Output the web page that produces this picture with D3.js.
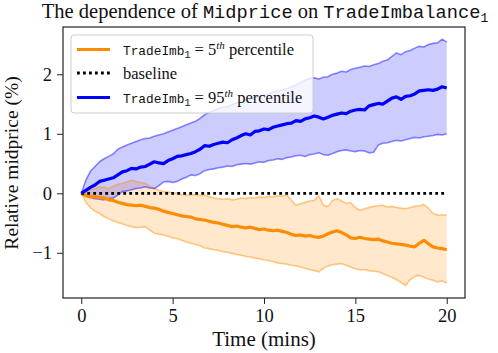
<!DOCTYPE html>
<html>
<head>
<meta charset="utf-8">
<script src="https://cdn.jsdelivr.net/npm/d3@7"></script>
<style>
  html, body { margin: 0; padding: 0; background: #fff; }
  svg { display: block; }
</style>
</head>
<body>
<svg id="chart" width="498" height="353"></svg>
<script>
// ---------------- DATA ----------------
const timeStep = 0.25; // minutes between samples, t = 0 .. 20
const blueMean = [0,0.05,0.10,0.14,0.20,0.22,0.24,0.26,0.31,0.36,0.38,0.42,0.41,0.44,0.45,0.49,0.53,0.51,0.50,0.55,0.58,0.62,0.63,0.65,0.67,0.70,0.74,0.80,0.79,0.82,0.84,0.86,0.85,0.90,0.93,0.97,1.00,0.98,1.04,1.05,1.08,1.07,1.11,1.13,1.15,1.17,1.18,1.22,1.21,1.25,1.27,1.30,1.28,1.25,1.28,1.31,1.33,1.35,1.34,1.38,1.40,1.41,1.40,1.47,1.49,1.51,1.50,1.55,1.60,1.62,1.58,1.63,1.64,1.67,1.72,1.73,1.74,1.73,1.75,1.79,1.77];
const blueUpper = [0,0.22,0.37,0.45,0.53,0.58,0.62,0.66,0.74,0.78,0.81,0.84,0.87,0.90,0.92,0.93,0.96,0.98,1.00,1.03,1.06,1.09,1.12,1.15,1.18,1.21,1.26,1.32,1.36,1.39,1.42,1.45,1.46,1.49,1.52,1.54,1.56,1.58,1.61,1.63,1.65,1.67,1.70,1.72,1.74,1.76,1.79,1.82,1.86,1.90,1.93,1.94,1.92,1.95,1.96,2.00,2.02,2.05,2.04,2.08,2.10,2.12,2.14,2.13,2.16,2.18,2.22,2.24,2.30,2.36,2.33,2.38,2.40,2.44,2.47,2.46,2.50,2.52,2.53,2.59,2.54];
const blueLower = [0,-0.04,-0.07,-0.09,-0.10,-0.11,-0.09,-0.08,-0.03,0.03,0.04,0.06,0.08,0.09,0.11,0.09,0.08,0.13,0.19,0.20,0.18,0.20,0.24,0.27,0.31,0.30,0.33,0.38,0.40,0.41,0.43,0.44,0.46,0.45,0.48,0.49,0.50,0.49,0.51,0.53,0.52,0.55,0.56,0.58,0.57,0.60,0.61,0.63,0.64,0.62,0.65,0.66,0.68,0.65,0.64,0.67,0.70,0.72,0.73,0.71,0.70,0.72,0.71,0.68,0.69,0.81,0.84,0.85,0.87,0.89,0.88,0.90,0.92,0.94,0.93,0.95,0.96,0.97,0.99,0.98,1.00];
const orangeMean = [0,-0.04,-0.06,-0.06,-0.07,-0.08,-0.11,-0.12,-0.15,-0.17,-0.19,-0.20,-0.21,-0.20,-0.22,-0.24,-0.25,-0.27,-0.30,-0.32,-0.34,-0.36,-0.38,-0.39,-0.40,-0.43,-0.44,-0.45,-0.47,-0.49,-0.50,-0.52,-0.54,-0.56,-0.55,-0.57,-0.58,-0.57,-0.59,-0.61,-0.60,-0.62,-0.63,-0.62,-0.64,-0.66,-0.69,-0.71,-0.70,-0.72,-0.71,-0.73,-0.74,-0.72,-0.68,-0.65,-0.63,-0.66,-0.70,-0.75,-0.76,-0.74,-0.76,-0.77,-0.78,-0.77,-0.80,-0.82,-0.84,-0.85,-0.86,-0.87,-0.89,-0.90,-0.84,-0.79,-0.85,-0.90,-0.92,-0.93,-0.95];
const orangeUpper = [0,0.03,0.06,0.08,0.11,0.10,0.08,0.12,0.15,0.17,0.19,0.22,0.20,0.18,0.17,0.12,0.08,0.05,0.03,0.02,0.01,0,-0.02,-0.03,-0.03,-0.02,-0.04,-0.03,-0.06,-0.08,-0.09,-0.10,-0.09,-0.11,-0.10,-0.08,-0.09,-0.07,-0.08,-0.06,-0.07,-0.05,-0.06,-0.04,-0.05,-0.03,-0.12,-0.20,-0.17,-0.15,-0.13,-0.12,-0.04,-0.20,-0.22,-0.12,-0.09,-0.13,-0.17,-0.16,-0.24,-0.29,-0.26,-0.24,-0.22,-0.21,-0.20,-0.23,-0.22,-0.24,-0.25,-0.26,-0.24,-0.22,-0.21,-0.19,-0.25,-0.34,-0.37,-0.36,-0.37];
const orangeLower = [0,-0.15,-0.24,-0.30,-0.34,-0.39,-0.43,-0.46,-0.49,-0.51,-0.54,-0.56,-0.58,-0.57,-0.56,-0.62,-0.67,-0.69,-0.70,-0.72,-0.75,-0.76,-0.79,-0.82,-0.84,-0.86,-0.88,-0.92,-0.93,-0.95,-0.96,-0.98,-0.99,-1.01,-1.03,-1.04,-1.06,-1.07,-1.09,-1.10,-1.12,-1.13,-1.15,-1.17,-1.18,-1.19,-1.21,-1.22,-1.24,-1.26,-1.28,-1.30,-1.32,-1.26,-1.22,-1.20,-1.19,-1.18,-1.21,-1.24,-1.27,-1.29,-1.28,-1.30,-1.31,-1.32,-1.35,-1.38,-1.41,-1.45,-1.50,-1.55,-1.45,-1.40,-1.38,-1.41,-1.44,-1.46,-1.49,-1.47,-1.51];
const baselineValues = [0, 0];
const baselineTimes = [0, 20];
const xTicks = [0, 5, 10, 15, 20];
const yTicks = [-1, 0, 1, 2];

// ---------------- LAYOUT ----------------
const SERIF = '"Liberation Serif", "Times New Roman", Times, serif';
const MONO = '"Liberation Mono", "DejaVu Sans Mono", monospace';
const svg = d3.select("#chart");
const L = 63, R = 465, T = 27, B = 298;
const times = blueMean.map((_, i) => i * timeStep);

const x = d3.scaleLinear().domain([-1, 21]).range([L, R]);
const y = d3.scaleLinear().domain([-1.76, 2.795]).range([B, T]);

const ORANGE = "#ff8c00", BLUE = "#0000ff";

svg.append("clipPath").attr("id", "clip")
  .append("rect").attr("x", L).attr("y", T).attr("width", R - L).attr("height", B - T);
const plot = svg.append("g").attr("clip-path", "url(#clip)");

function band(upper, lower) {
  return d3.area().x((d, i) => x(times[i])).y0((d, i) => y(lower[i])).y1((d, i) => y(upper[i]))(upper);
}
function line(vals) {
  return d3.line().x((d, i) => x(times[i])).y(d => y(d))(vals);
}

// fills
plot.append("path").attr("d", band(orangeUpper, orangeLower)).attr("fill", ORANGE).attr("fill-opacity", 0.2);
plot.append("path").attr("d", band(blueUpper, blueLower)).attr("fill", BLUE).attr("fill-opacity", 0.2);
// band edges
[[orangeUpper, ORANGE], [orangeLower, ORANGE], [blueUpper, BLUE], [blueLower, BLUE]].forEach(([v, c]) => {
  plot.append("path").attr("d", line(v)).attr("fill", "none").attr("stroke", c)
    .attr("stroke-opacity", 0.45).attr("stroke-width", 1.6).attr("stroke-linejoin", "round");
});
// means
plot.append("path").attr("d", line(orangeMean)).attr("fill", "none").attr("stroke", ORANGE)
  .attr("stroke-width", 3.2).attr("stroke-linejoin", "round");
plot.append("path").attr("d", d3.line().x((d, i) => x(baselineTimes[i])).y(d => y(d))(baselineValues))
  .attr("fill", "none").attr("stroke", "#000").attr("stroke-width", 2.8).attr("stroke-dasharray", "2.8,3.2");
plot.append("path").attr("d", line(blueMean)).attr("fill", "none").attr("stroke", BLUE)
  .attr("stroke-width", 3.2).attr("stroke-linejoin", "round");

// axes
const xAxis = svg.append("g").attr("transform", `translate(0,${B})`)
  .call(d3.axisBottom(x).tickValues(xTicks).tickSize(6).tickPadding(5).tickFormat(d3.format("d")));
const yAxis = svg.append("g").attr("transform", `translate(${L},0)`)
  .call(d3.axisLeft(y).tickValues(yTicks).tickSize(6).tickPadding(5)
    .tickFormat(d => (d < 0 ? "\u2212" + Math.abs(d) : String(d))));
[xAxis, yAxis].forEach(g => {
  g.attr("font-family", null).attr("font-size", null);
  g.select(".domain").remove();
  g.selectAll(".tick line").attr("stroke", "#222").attr("stroke-width", 1);
  g.selectAll(".tick text").attr("fill", "#111").style("font-family", SERIF).style("font-size", "18.5px");
});
// frame
svg.append("rect").attr("x", L).attr("y", T).attr("width", R - L).attr("height", B - T)
  .attr("fill", "none").attr("stroke", "#222").attr("stroke-width", 1.2);

// axis labels
svg.append("text").attr("x", 264).attr("y", 346)
  .attr("text-anchor", "middle").style("font-family", SERIF).style("font-size", "21px").attr("fill", "#111").text("Time (mins)");
svg.append("text").attr("transform", `translate(17.5,163) rotate(-90)`)
  .attr("text-anchor", "middle").style("font-family", SERIF).style("font-size", "19.5px").attr("fill", "#111").text("Relative midprice (%)");

// title
const title = svg.append("text").attr("x", 265).attr("y", 18).attr("text-anchor", "middle").attr("fill", "#111");
title.append("tspan").style("font-family", SERIF).style("font-size", "20.5px").text("The dependence of ");
title.append("tspan").style("font-family", MONO).style("font-size", "18.7px").text("Midprice");
title.append("tspan").style("font-family", SERIF).style("font-size", "20.5px").text(" on ");
title.append("tspan").style("font-family", MONO).style("font-size", "18.7px").text("TradeImbalance");
title.append("tspan").style("font-family", MONO).style("font-size", "13px").attr("dy", 4).text("1");

// legend
const lg = svg.append("g");
lg.append("rect").attr("x", 71).attr("y", 35).attr("width", 242).attr("height", 78).attr("rx", 3)
  .attr("fill", "#fff").attr("fill-opacity", 0.8).attr("stroke", "#cccccc").attr("stroke-width", 1);
const legendItems = [
  { color: ORANGE, dash: null, pct: "5" },
  { color: "#000", dash: "2.8,3.2", label: "baseline" },
  { color: BLUE, dash: null, pct: "95" }
];
const rowY = [49.5, 73, 97.5];
legendItems.forEach((it, i) => {
  const yy = rowY[i];
  lg.append("line").attr("x1", 77).attr("x2", 110).attr("y1", yy).attr("y2", yy)
    .attr("stroke", it.color).attr("stroke-width", 3).attr("stroke-dasharray", it.dash);
  const t = lg.append("text").attr("x", 123).attr("y", yy + 5.5).attr("fill", "#111");
  if (it.label) {
    t.append("tspan").style("font-family", SERIF).style("font-size", "16.5px").text(it.label);
  } else {
    t.append("tspan").style("font-family", MONO).style("font-size", "12.8px").text("TradeImb");
    t.append("tspan").style("font-family", MONO).style("font-size", "10px").attr("dy", 3).text("1");
    t.append("tspan").style("font-family", SERIF).style("font-size", "16.5px").attr("dy", -3).text(" = " + it.pct);
    t.append("tspan").style("font-family", SERIF).style("font-size", "11px").style("font-style", "italic").attr("dy", -6).text("th");
    t.append("tspan").style("font-family", SERIF).style("font-size", "16.5px").attr("dy", 6).text(" percentile");
  }
});
</script>
</body>
</html>
